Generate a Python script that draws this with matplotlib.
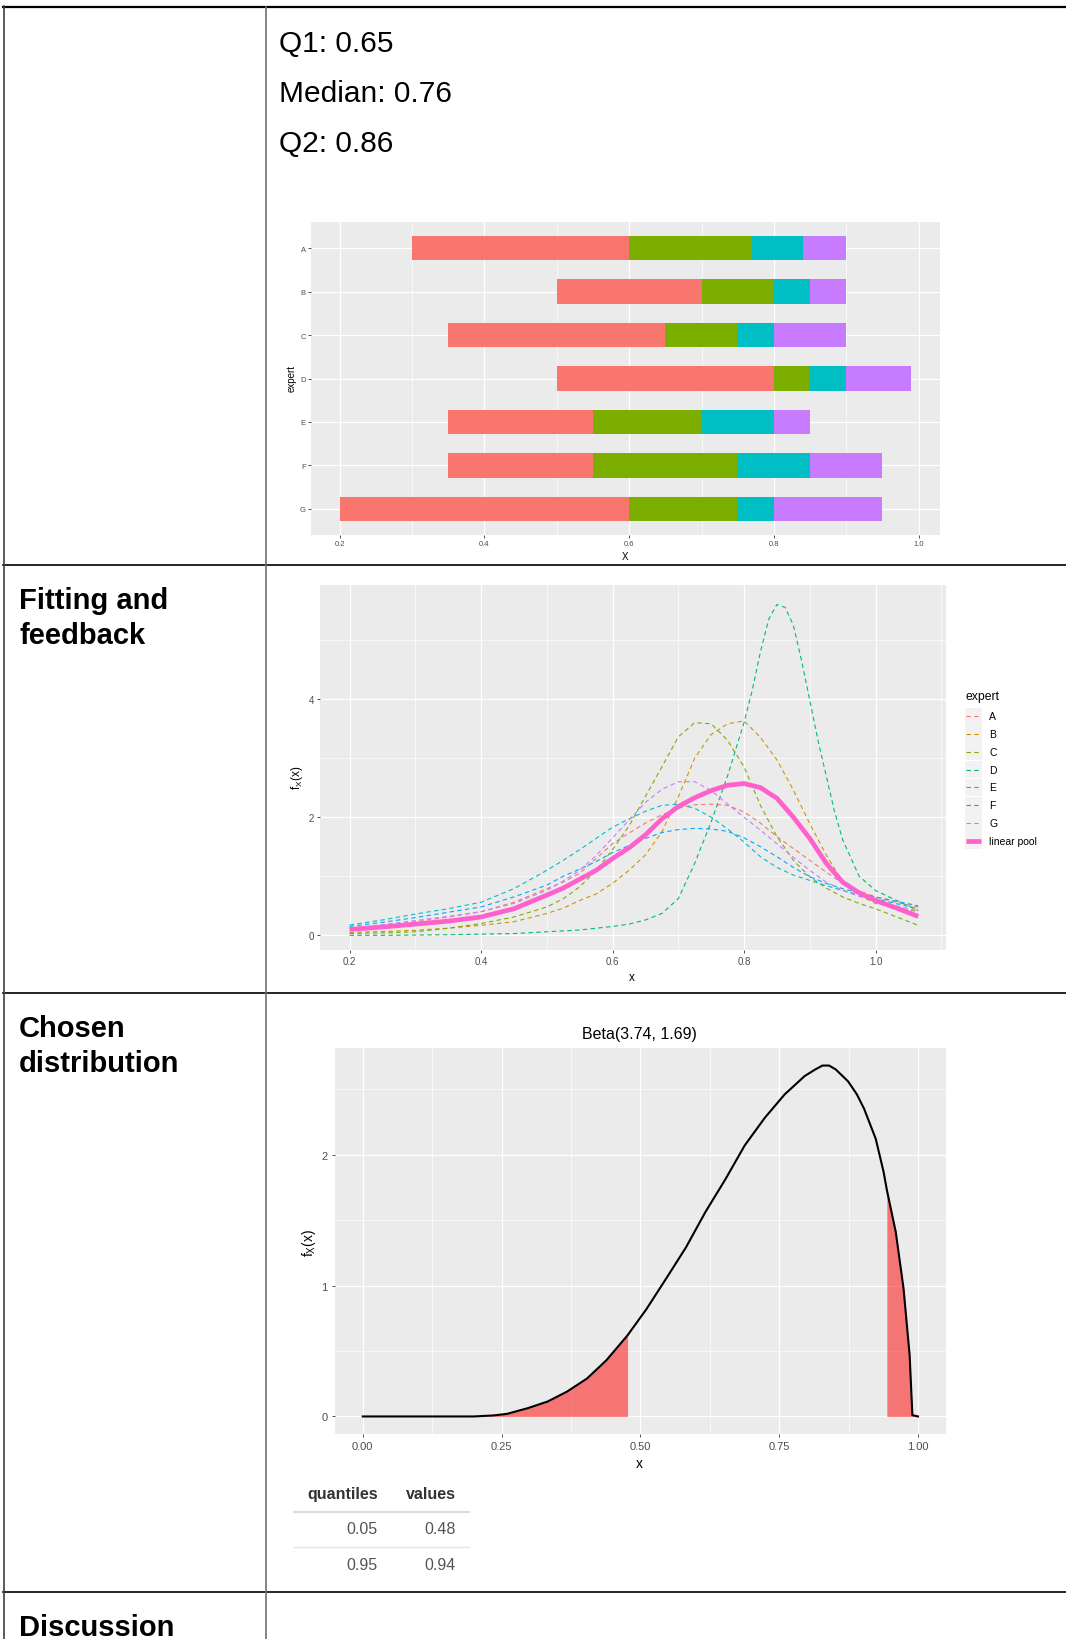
import matplotlib
matplotlib.use('Agg')
import matplotlib.pyplot as plt
from matplotlib.lines import Line2D
from matplotlib.patches import Rectangle

plt.rcParams['font.family'] = ['Liberation Sans', 'DejaVu Sans']

W, H = 1066, 1640

# ---- data ----
summary_text = ['Q1: 0.65', 'Median: 0.76', 'Q2: 0.86']
row_labels = [['Fitting and', 'feedback'], ['Chosen', 'distribution'], ['Discussion']]

experts = ['A', 'B', 'C', 'D', 'E', 'F', 'G']
lower = [0.30, 0.50, 0.35, 0.50, 0.35, 0.35, 0.20]
q1 = [0.60, 0.70, 0.65, 0.80, 0.55, 0.55, 0.60]
median = [0.77, 0.80, 0.75, 0.85, 0.70, 0.75, 0.75]
q3 = [0.84, 0.85, 0.80, 0.90, 0.80, 0.85, 0.80]
upper = [0.90, 0.90, 0.90, 0.99, 0.85, 0.95, 0.95]

dens_x = [0.2, 0.25, 0.3, 0.35, 0.4, 0.45, 0.5, 0.525, 0.55, 0.575, 0.6, 0.625,
          0.65, 0.675, 0.7, 0.725, 0.75, 0.775, 0.8, 0.825, 0.85, 0.875, 0.9,
          0.925, 0.95, 0.975, 1.0, 1.03, 1.065]
dens_A = [0.11, 0.16, 0.23, 0.31, 0.40, 0.56, 0.79, 0.90, 1.05, 1.30, 1.55, 1.73,
          1.90, 2.04, 2.15, 2.21, 2.22, 2.20, 2.09, 1.90, 1.67, 1.47, 1.27, 1.07,
          0.88, 0.75, 0.65, 0.56, 0.48]
dens_B = [0.05, 0.065, 0.085, 0.12, 0.17, 0.23, 0.37, 0.46, 0.59, 0.70, 0.88, 1.10,
          1.36, 1.75, 2.34, 3.00, 3.40, 3.58, 3.63, 3.35, 2.97, 2.46, 1.89, 1.36,
          0.90, 0.68, 0.54, 0.47, 0.40]
dens_C = [0.03, 0.04, 0.06, 0.12, 0.20, 0.31, 0.48, 0.62, 0.82, 1.10, 1.45, 1.85,
          2.35, 2.85, 3.36, 3.60, 3.58, 3.30, 2.85, 2.20, 1.67, 1.27, 0.99, 0.80,
          0.65, 0.54, 0.45, 0.32, 0.17]
dens_E = [0.175, 0.26, 0.36, 0.45, 0.56, 0.79, 1.10, 1.27, 1.45, 1.64, 1.83, 1.97,
          2.10, 2.20, 2.22, 2.15, 2.00, 1.80, 1.58, 1.33, 1.15, 1.02, 0.93, 0.84,
          0.76, 0.69, 0.62, 0.54, 0.45]
dens_F = [0.15, 0.22, 0.30, 0.39, 0.48, 0.65, 0.85, 1.00, 1.12, 1.25, 1.40, 1.52,
          1.64, 1.74, 1.79, 1.81, 1.80, 1.76, 1.65, 1.50, 1.33, 1.15, 0.99, 0.88,
          0.79, 0.72, 0.65, 0.58, 0.50]
dens_G = [0.12, 0.18, 0.25, 0.32, 0.40, 0.54, 0.76, 0.92, 1.10, 1.35, 1.65, 1.95,
          2.25, 2.47, 2.60, 2.60, 2.45, 2.22, 2.00, 1.78, 1.55, 1.32, 1.10, 0.90,
          0.76, 0.66, 0.59, 0.50, 0.42]
dens_pool = [0.10, 0.14, 0.19, 0.24, 0.31, 0.45, 0.68, 0.80, 0.95, 1.10, 1.30, 1.48,
             1.70, 1.97, 2.18, 2.33, 2.45, 2.54, 2.57, 2.50, 2.32, 2.00, 1.64, 1.22,
             0.90, 0.72, 0.59, 0.47, 0.32]
# expert D is sharper, read on a finer grid
dens_D_x = [0.2, 0.25, 0.3, 0.35, 0.4, 0.45, 0.5, 0.55, 0.6, 0.625, 0.65, 0.675,
            0.7, 0.725, 0.75, 0.775, 0.8, 0.8125, 0.825, 0.8375, 0.85, 0.8625,
            0.875, 0.8875, 0.9, 0.9125, 0.925, 0.9375, 0.95, 0.975, 1.0, 1.03, 1.065]
dens_D = [0.0, 0.0, 0.005, 0.01, 0.02, 0.03, 0.06, 0.09, 0.15, 0.19, 0.26, 0.37,
          0.62, 1.22, 1.92, 2.70, 3.60, 4.15, 4.80, 5.35, 5.60, 5.55, 5.25, 4.65,
          3.98, 3.30, 2.70, 2.10, 1.62, 1.00, 0.76, 0.60, 0.42]

beta_title = 'Beta(3.74, 1.69)'
beta_x = [0.0, 0.1, 0.2, 0.236, 0.26, 0.297, 0.333, 0.368, 0.404, 0.439, 0.477,
          0.511, 0.546, 0.582, 0.617, 0.653, 0.688, 0.724, 0.76, 0.796, 0.815,
          0.828, 0.84, 0.852, 0.874, 0.89, 0.903, 0.924, 0.938, 0.944, 0.96,
          0.974, 0.985, 0.99, 1.0]
beta_y = [0.0, 0.0, 0.0, 0.008, 0.02, 0.063, 0.114, 0.19, 0.29, 0.43, 0.62,
          0.82, 1.05, 1.29, 1.56, 1.81, 2.07, 2.28, 2.46, 2.60, 2.65,
          2.68, 2.68, 2.65, 2.56, 2.46, 2.35, 2.12, 1.87, 1.73, 1.41,
          0.98, 0.47, 0.01, 0.0]
beta_lo, beta_hi = 0.477, 0.944

quant_probs = ['0.05', '0.95']
quant_vals = ['0.48', '0.94']

seg_colors = ['#F8766D', '#7CAE00', '#00BFC4', '#C77CFF']
expert_colors = ['#F8766D', '#CD9600', '#7CAE00', '#00BE67', '#00BFC4', '#00A9FF', '#C77CFF']
pool_color = '#FF61CC'


def fx(x):
    return x / W


def fy(y):
    return 1 - y / H


def add_axes_px(fig, x0, y0, x1, y1):
    return fig.add_axes([fx(x0), fy(y1), (x1 - x0) / W, (y1 - y0) / H])


def gg_style(ax, fs, xmaj, xmin, ymaj, ymin, pad=1.5):
    ax.set_facecolor('#EBEBEB')
    for s in ax.spines.values():
        s.set_visible(False)
    ax.set_xticks(xmaj)
    ax.set_xticks(xmin, minor=True)
    ax.set_yticks(ymaj)
    ax.set_yticks(ymin, minor=True)
    ax.grid(which='major', color='white', lw=0.9)
    ax.grid(which='minor', color='white', lw=0.45)
    ax.set_axisbelow(True)
    ax.tick_params(which='major', length=2.2, width=0.6, color='#333333',
                   labelcolor='#4D4D4D', labelsize=fs, pad=pad)
    ax.tick_params(which='minor', length=0)


fig = plt.figure(figsize=(W / 100, H / 100), dpi=100)

# ---- document table lines ----
def hline(y, x0=3, x1=W, lw=1.4, c='black'):
    fig.add_artist(Line2D([fx(x0), fx(x1)], [fy(y), fy(y)], lw=lw, color=c))


def vline(x, y0, y1, lw=1.2, c='#707070'):
    fig.add_artist(Line2D([fx(x), fx(x)], [fy(y0), fy(y1)], lw=lw, color=c))


hline(7.5, lw=1.6)
for yy in [566, 994, 1593]:
    hline(yy, lw=1.2)
vline(4, 6.5, H, c='#404040')
vline(266, 7.5, H)

# ---- text cells ----
for s, yb in zip(summary_text, [52, 101.5, 152]):
    fig.text(fx(279), fy(yb), s, fontsize=21.5, va='baseline', ha='left')

for lines, ybs in zip(row_labels, [[609, 644], [1037, 1072], [1636]]):
    for s, yb in zip(lines, ybs):
        fig.text(fx(19), fy(yb), s, fontsize=21, fontweight='bold', va='baseline', ha='left')

# ---- chart 1: expert quantile bars ----
ax1 = add_axes_px(fig, 311, 223, 940, 536)
gg_style(ax1, 5.5, [0.2, 0.4, 0.6, 0.8, 1.0], [0.3, 0.5, 0.7, 0.9],
         list(range(7, 0, -1)), [])
ypos = list(range(7, 0, -1))
bounds = [lower, q1, median, q3, upper]
for k in range(4):
    widths = [b - a for a, b in zip(bounds[k], bounds[k + 1])]
    ax1.barh(ypos, widths, left=bounds[k], height=0.56, color=seg_colors[k], lw=0)
ax1.set_yticklabels(experts)
ax1.set_xticklabels(['0.2', '0.4', '0.6', '0.8', '1.0'])
ax1.set_xlim(0.1605, 1.0295)
ax1.set_ylim(0.4, 7.6)
fig.text(fx(625), fy(557), 'X', fontsize=7, ha='center', va='center', color='black')
fig.text(fx(292), fy(379), 'expert', fontsize=7, rotation=90, ha='center', va='center')

# ---- chart 2: expert densities and linear pool ----
ax2 = add_axes_px(fig, 320, 586, 945.6, 950.5)
gg_style(ax2, 7, [0.2, 0.4, 0.6, 0.8, 1.0], [0.3, 0.5, 0.7, 0.9, 1.1],
         [0, 2, 4], [1, 3, 5], pad=2.2)
ax2.set_xticklabels(['0.2', '0.4', '0.6', '0.8', '1.0'])
all_x = [dens_x, dens_x, dens_x, dens_D_x, dens_x, dens_x, dens_x]
all_dens = [dens_A, dens_B, dens_C, dens_D, dens_E, dens_F, dens_G]
for xs, dens, col in zip(all_x, all_dens, expert_colors):
    ax2.plot(xs, dens, color=col, lw=0.8, dashes=(4, 3))
ax2.plot(dens_x, dens_pool, color=pool_color, lw=3.4, solid_capstyle='butt')
ax2.set_xlim(0.155, 1.1066)
ax2.set_ylim(-0.24, 5.93)
fig.text(fx(632), fy(978), 'x', fontsize=8.5, ha='center', va='center')
fig.text(fx(297), fy(778), r'$\mathregular{f_X(x)}$', fontsize=8.5, rotation=90,
         ha='center', va='center')

# legend drawn by hand, ggplot style
fig.text(fx(965), fy(697), 'expert', fontsize=8.8, ha='left', va='center')
leg_labels = experts + ['linear pool']
leg_colors = expert_colors + [pool_color]
for i, (lab, col) in enumerate(zip(leg_labels, leg_colors)):
    yc = 717.3 + i * 17.77
    fig.add_artist(Rectangle((fx(965), fy(yc + 8.6)), 17 / W, 17.2 / H,
                             transform=fig.transFigure, color='#F2F2F2', lw=0))
    if lab == 'linear pool':
        fig.add_artist(Line2D([fx(966), fx(981)], [fy(yc), fy(yc)], lw=3.4, color=col,
                              solid_capstyle='butt'))
    else:
        fig.add_artist(Line2D([fx(966), fx(981)], [fy(yc), fy(yc)], lw=0.8, color=col,
                              dashes=(4, 3)))
    fig.text(fx(989), fy(yc), lab, fontsize=7.5, ha='left', va='center')

# ---- chart 3: fitted beta ----
ax3 = add_axes_px(fig, 335, 1049, 945.7, 1435)
gg_style(ax3, 8, [0, 0.25, 0.5, 0.75, 1.0], [0.125, 0.375, 0.625, 0.875],
         [0, 1, 2], [0.5, 1.5, 2.5], pad=3)
ax3.set_xticklabels(['0.00', '0.25', '0.50', '0.75', '1.00'])
ax3.set_yticklabels(['0', '1', '2'])
lo_x = [x for x in beta_x if x <= beta_lo]
lo_y = [y for x, y in zip(beta_x, beta_y) if x <= beta_lo]
hi_x = [x for x in beta_x if x >= beta_hi]
hi_y = [y for x, y in zip(beta_x, beta_y) if x >= beta_hi]
ax3.fill_between(lo_x, 0, lo_y, color='red', alpha=0.5, lw=0)
ax3.fill_between(hi_x, 0, hi_y, color='red', alpha=0.5, lw=0)
ax3.plot(beta_x, beta_y, color='black', lw=1.5)
ax3.set_xlim(-0.05, 1.05)
ax3.set_ylim(-0.134, 2.814)
fig.text(fx(639), fy(1034.6), beta_title, fontsize=11.5, ha='center', va='center')
fig.text(fx(639), fy(1464.5), 'x', fontsize=10, ha='center', va='center')
fig.text(fx(308.6), fy(1243), r'$\mathregular{f_X(x)}$', fontsize=10, rotation=90,
         ha='center', va='center')

# ---- quantile table ----
fig.text(fx(378.5), fy(1495), 'quantiles', fontsize=11.5, fontweight='bold',
         color='#333333', ha='right', va='center')
fig.text(fx(456), fy(1495), 'values', fontsize=11.5, fontweight='bold',
         color='#333333', ha='right', va='center')
hline(1512.6, 294, 469, lw=1.6, c='#DDDDDD')
hline(1548, 294, 469, lw=1.0, c='#E3E3E3')
for p, v, yc in zip(quant_probs, quant_vals, [1530, 1566]):
    fig.text(fx(377.6), fy(yc), p, fontsize=11.5, color='#555555', ha='right', va='center')
    fig.text(fx(456), fy(yc), v, fontsize=11.5, color='#555555', ha='right', va='center')

fig.savefig('out.png', dpi=100)
